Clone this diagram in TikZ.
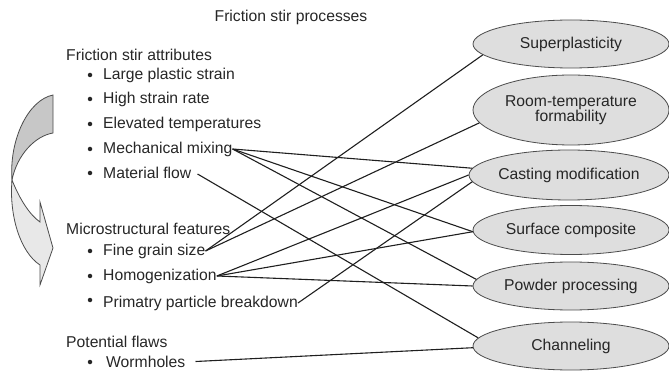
\documentclass[tikz,border=0pt]{standalone}
\usepackage{fontspec}
\setmainfont{Liberation Sans}
\usetikzlibrary{shapes.geometric}
\begin{document}
\begin{tikzpicture}[x=1pt,y=-1pt,
  font=\fontsize{15.7}{15.5}\selectfont,
  txt/.style={anchor=west,inner sep=0pt,text=black!85},
  proc/.style={ellipse,draw=black!70,line width=0.8pt,fill=black!13,minimum width=196pt,inner sep=0pt,align=center,text=black!85},
  conn/.style={draw=black!88,line width=1.1pt},
  bul/.style={circle,fill=black!85,inner sep=0pt,minimum size=4.5pt}]
\useasboundingbox (0,0) rectangle (669,371);

% title
\node[inner sep=0pt,text=black!85] (title) at (291,17) {Friction stir processes};

% curved arrow
\filldraw[fill=black!22,draw=black!70,line width=0.8pt]
  (53,95) -- (53,133) .. controls (35,136) and (17,155) .. (12,180)
  .. controls (9,140) and (28,100) .. (53,95) -- cycle;
\filldraw[fill=black!9,draw=black!70,line width=0.8pt]
  (12,180) .. controls (20,200) and (30,215) .. (40,222) -- (40,202) -- (53,248)
  -- (40,285) -- (40,265) .. controls (20,252) and (9,215) .. (12,180) -- cycle;

% left texts
\node[txt] (h1) at (66,55) {Friction stir attributes};
\node[txt] (a1) at (103,75) {Large plastic strain};
\node[txt] (a2) at (103,99) {High strain rate};
\node[txt] (a3) at (103,124) {Elevated temperatures};
\node[txt] (mix) at (103,149) {Mechanical mixing};
\node[txt] (flow) at (103,173) {Material flow};
\node[txt] (h2) at (66,229) {Microstructural features};
\node[txt] (fine) at (103,251) {Fine grain size};
\node[txt] (hom) at (103,276) {Homogenization};
\node[txt] (prim) at (103,303) {Primatry particle breakdown};
\node[txt] (h3) at (66,342) {Potential flaws};
\node[txt] (worm) at (106,361.5) {Wormholes};

\node[bul] (b1) at (90,75) {};
\node[bul] (b2) at (90,99) {};
\node[bul] (b3) at (90,124) {};
\node[bul] (b4) at (90,149) {};
\node[bul] (b5) at (90,173) {};
\node[bul] (b6) at (90,251) {};
\node[bul] (b7) at (90,276) {};
\node[bul] (b8) at (90,300) {};
\node[bul] (b9) at (90,362) {};

% ellipses
\node[proc,minimum height=48pt] (sp) at (571,44) {Superplasticity};
\node[proc,minimum height=70pt] (rt) at (571,110) {Room-temperature\\formability};
\node[proc,minimum height=50pt,minimum width=200pt] (cm) at (569,175) {Casting modification};
\node[proc,minimum height=49pt] (sc) at (571,230) {Surface composite};
\node[proc,minimum height=48pt] (pp) at (571,286) {Powder processing};
\node[proc,minimum height=48pt] (ch) at (571,346) {Channeling};

% connectors
\draw[conn] (mix.east) -- (cm.176);
\draw[conn] (mix.east) -- (sc.181);
\draw[conn] (mix.east) -- (pp.176);
\draw[conn] (flow.east) ++(6,1) -- (ch.175);
\draw[conn] (fine.east) -- (sp.187);
\draw[conn] (fine.east) -- (rt.188);
\draw[conn] (hom.east) -- (cm.180);
\draw[conn] (hom.east) -- (sc.181);
\draw[conn] (hom.east) -- (pp.180);
\draw[conn] (prim.east) -- (cm.184);
\draw[conn] (worm.east) ++(10,0) -- (ch.181);
\end{tikzpicture}
\end{document}
